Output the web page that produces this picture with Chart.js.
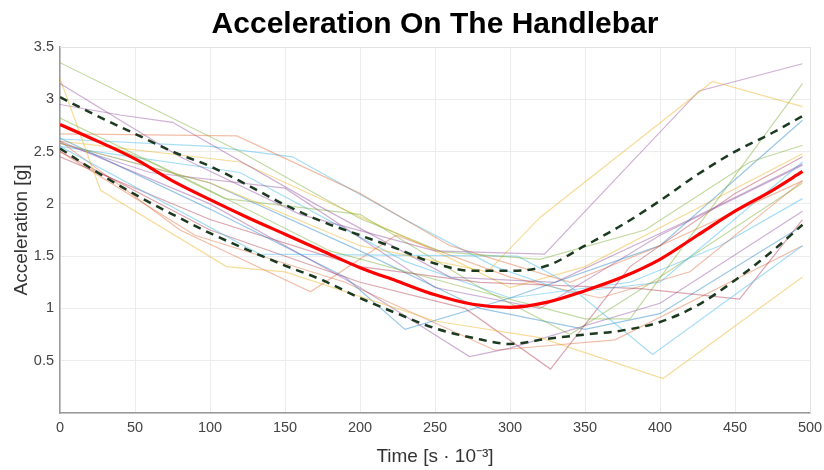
<!DOCTYPE html>
<html>
<head>
<meta charset="utf-8">
<script src="https://cdn.jsdelivr.net/npm/chart.js@4.4.0/dist/chart.umd.min.js"></script>
<style>
    html, body { margin: 0; padding: 0; background: #fff; }
</style>
</head>
<body>
<canvas id="myChart" width="824" height="470"></canvas>
<script>
// mean curve and mean +/- std (time in ms)
var meanTime = [0, 25, 50, 75, 100, 125, 150, 175, 200, 225, 250, 275, 300, 325, 350, 375, 400, 425, 450, 475, 495];
var meanAcc  = [2.76, 2.6, 2.43, 2.22, 2.04, 1.87, 1.71, 1.55, 1.39, 1.26, 1.13, 1.04, 1.01, 1.06, 1.17, 1.3, 1.47, 1.7, 1.93, 2.13, 2.31];
var upperAcc = [3.02, 2.84, 2.67, 2.5, 2.36, 2.18, 1.99, 1.83, 1.7, 1.57, 1.43, 1.36, 1.36, 1.41, 1.6, 1.8, 2.03, 2.28, 2.5, 2.68, 2.84];
var lowerAcc = [2.53, 2.3, 2.09, 1.9, 1.72, 1.56, 1.41, 1.27, 1.1, 0.95, 0.81, 0.72, 0.66, 0.71, 0.75, 0.79, 0.87, 1.03, 1.27, 1.55, 1.8];

// single runs
var t01 = [0, 120, 200, 255, 320, 390, 460, 495];       var a01 = [3.35, 2.5, 1.86, 1.54, 1.47, 1.75, 2.4, 2.56];
var t02 = [0, 100, 200, 285, 320, 435, 495];            var a02 = [2.58, 2.2, 1.6, 1.35, 1.87, 3.17, 2.93];
var t03 = [0, 80, 160, 250, 323, 426, 495];             var a03 = [3.15, 2.45, 1.9, 1.55, 1.52, 3.08, 3.34];
var t04 = [0, 90, 180, 270, 350, 380, 495];             var a04 = [2.82, 2.2, 1.55, 1.2, 0.9, 0.9, 3.15];
var t05 = [0, 118, 200, 260, 340, 400, 495];            var a05 = [2.67, 2.65, 2.1, 1.6, 1.25, 1.6, 2.22];
var t06 = [0, 27, 111, 150, 250, 320, 402, 495];        var a06 = [3.2, 2.13, 1.4, 1.35, 0.88, 0.72, 0.33, 1.3];
var t07 = [0, 40, 75, 170, 260, 330, 420, 495];         var a07 = [2.95, 2.85, 2.78, 2.0, 1.3, 1.25, 1.85, 2.38];
var t08 = [0, 100, 155, 230, 290, 340, 400, 495];       var a08 = [2.62, 2.55, 2.45, 1.85, 1.4, 1.15, 1.25, 2.4];
var t09 = [0, 133, 305, 335, 395, 495];                 var a09 = [2.55, 1.52, 1.5, 1.27, 0.56, 1.6];
var t10 = [0, 100, 200, 273, 300, 400, 495];            var a10 = [2.6, 2.0, 1.2, 0.54, 0.62, 1.05, 1.93];
var t11 = [0, 100, 200, 270, 327, 380, 450, 495];       var a11 = [2.5, 1.75, 1.25, 1.0, 0.42, 1.4, 2.1, 2.45];
var t12 = [0, 100, 190, 230, 300, 400, 495];            var a12 = [2.63, 1.95, 1.3, 0.8, 1.1, 1.6, 2.8];
var t13 = [0, 100, 200, 280, 387, 453, 495];            var a13 = [2.45, 1.85, 1.4, 1.25, 1.19, 1.09, 1.85];
var t14 = [0, 80, 167, 224, 300, 360, 420, 495];        var a14 = [2.6, 1.75, 1.16, 1.7, 1.3, 1.1, 1.35, 2.22];
var t15 = [0, 60, 110, 200, 280, 340, 400, 495];        var a15 = [2.75, 2.4, 2.05, 1.9, 1.2, 0.75, 1.3, 2.2];
var t16 = [0, 90, 190, 290, 370, 495];                  var a16 = [2.5, 1.7, 1.25, 0.6, 0.7, 1.6];
var t17 = [0, 100, 200, 280, 350, 400, 495];            var a17 = [2.58, 2.2, 1.55, 1.0, 0.8, 0.95, 1.79];
var t18 = [0, 120, 250, 300, 350, 495];                 var a18 = [2.6, 2.4, 1.55, 1.2, 1.4, 2.48];
var t19 = [0, 60, 150, 250, 320, 400, 495];             var a19 = [2.58, 2.3, 2.15, 1.2, 1.0, 1.7, 2.37];
var t20 = [0, 120, 230, 300, 380, 440, 495];            var a20 = [2.55, 2.3, 1.45, 1.1, 1.25, 1.6, 2.05];

var xTicks = [0, 50, 100, 150, 200, 250, 300, 350, 400, 450, 500];
var yTicks = [0, 0.5, 1, 1.5, 2, 2.5, 3, 3.5];

var runTimes = [t01, t02, t03, t04, t05, t06, t07, t08, t09, t10, t11, t12, t13, t14, t15, t16, t17, t18, t19, t20];
var runAccs  = [a01, a02, a03, a04, a05, a06, a07, a08, a09, a10, a11, a12, a13, a14, a15, a16, a17, a18, a19, a20];

var blue = "rgba(0, 114, 189, 0.4)", orange = "rgba(217, 83, 25, 0.38)", yellow = "rgba(237, 177, 32, 0.45)",
    purple = "rgba(126, 47, 142, 0.38)", green = "rgba(119, 172, 48, 0.45)", lblue = "rgba(77, 190, 238, 0.5)",
    dred = "rgba(162, 20, 47, 0.38)";
var runColors = [green, yellow, purple, green, orange, yellow, purple, lblue, lblue, purple,
                 dred, blue, dred, orange, green, orange, blue, yellow, purple, lblue];

function toPoints(xs, ys) {
    var pts = [];
    for (var i = 0; i < xs.length; i++) pts.push({ x: xs[i], y: ys[i] });
    return pts;
}

var datasets = [];
datasets.push({ label: "mean", data: toPoints(meanTime, meanAcc), borderColor: "rgb(255, 0, 0)", borderWidth: 3.2, cubicInterpolationMode: "monotone", order: 0 });
datasets.push({ label: "upper", data: toPoints(meanTime, upperAcc), borderColor: "rgb(28, 58, 32)", borderWidth: 2.5, borderDash: [8, 6], cubicInterpolationMode: "monotone", order: 1 });
datasets.push({ label: "lower", data: toPoints(meanTime, lowerAcc), borderColor: "rgb(28, 58, 32)", borderWidth: 2.5, borderDash: [8, 6], cubicInterpolationMode: "monotone", order: 1 });
for (var i = 0; i < runTimes.length; i++) {
    datasets.push({ label: "run " + (i + 1), data: toPoints(runTimes[i], runAccs[i]), borderColor: runColors[i], borderWidth: 1.2, order: 2 });
}

// light frame on top/right and title centred over the plot area, like the original figure
var boxPlugin = {
    id: "box",
    beforeDatasetsDraw: function (chart) {
        var a = chart.chartArea, c = chart.ctx;
        c.save();
        c.strokeStyle = "#e3e3e3";
        c.lineWidth = 1;
        c.beginPath();
        c.moveTo(a.left, a.top + 0.5);
        c.lineTo(a.right + 0.5, a.top + 0.5);
        c.lineTo(a.right + 0.5, a.bottom);
        c.stroke();
        c.restore();
    },
    afterDraw: function (chart) {
        var a = chart.chartArea, c = chart.ctx;
        c.save();
        c.fillStyle = "#000";
        c.font = "bold 30px 'Liberation Sans', Arial, sans-serif";
        c.textAlign = "center";
        c.textBaseline = "middle";
        c.fillText("Acceleration On The Handlebar", (a.left + a.right) / 2, 25);
        c.restore();
    }
};

var ctx = document.getElementById("myChart").getContext("2d");
var myChart = new Chart(ctx, {
    type: "line",
    data: { datasets: datasets },
    plugins: [boxPlugin],
    options: {
        responsive: false,
        animation: false,
        layout: { padding: { left: 0, right: 0, top: 47, bottom: 0 } },
        elements: { point: { radius: 0 }, line: { tension: 0, fill: false } },
        plugins: {
            legend: { display: false },
            tooltip: { enabled: false },
            title: { display: false }
        },
        scales: {
            x: {
                type: "linear", min: 0, max: 500,
                afterBuildTicks: function (scale) { scale.ticks = xTicks.map(function (v) { return { value: v }; }); },
                afterFit: function (scale) { scale.height = 57; scale.paddingRight = 14; scale.paddingLeft = 0; },
                ticks: { color: "#444", font: { family: "'Liberation Sans', Arial, sans-serif", size: 14.5 }, padding: 6, maxRotation: 0 },
                grid: { color: "#ececec", drawTicks: false },
                border: { color: "#9a9a9a", width: 1.5 },
                title: { display: true, text: "Time [s · 10⁻³]", color: "#333", font: { family: "'Liberation Sans', Arial, sans-serif", size: 19 }, padding: { top: 0, bottom: 2 } }
            },
            y: {
                type: "linear", min: 0, max: 3.5,
                afterBuildTicks: function (scale) { scale.ticks = yTicks.map(function (v) { return { value: v }; }); },
                afterFit: function (scale) { scale.width = 60; },
                ticks: {
                    color: "#444", font: { family: "'Liberation Sans', Arial, sans-serif", size: 14.5 }, padding: 6,
                    callback: function (v) { return v === 0 ? "" : v; }
                },
                grid: { color: "#ececec", drawTicks: false },
                border: { color: "#9a9a9a", width: 1.5 },
                title: { display: true, text: "Acceleration [g]", color: "#333", font: { family: "'Liberation Sans', Arial, sans-serif", size: 19 }, padding: { top: 10, bottom: 0 } }
            }
        }
    }
});
</script>
</body>
</html>
